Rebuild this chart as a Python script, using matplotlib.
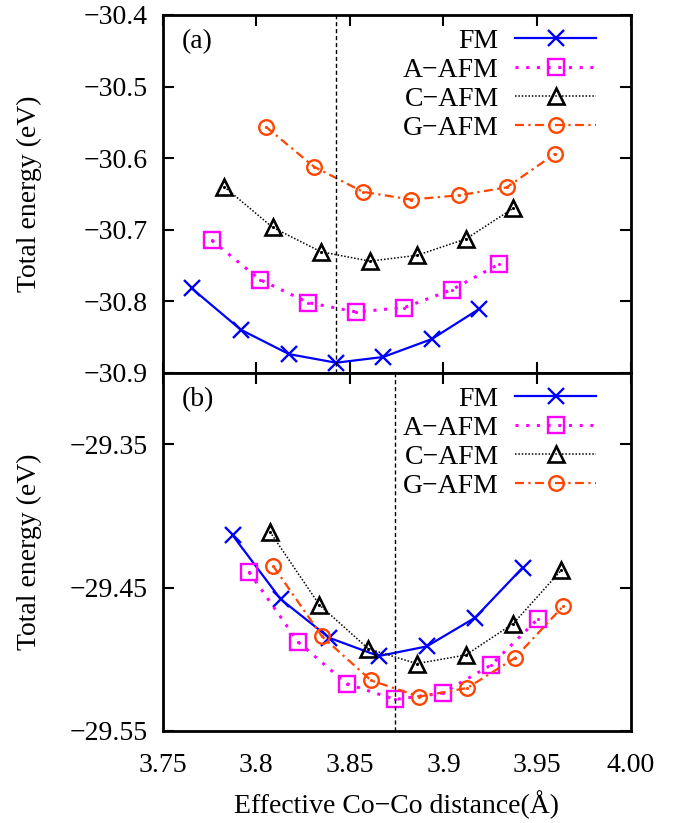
import matplotlib
matplotlib.use('Agg')
import matplotlib.pyplot as plt
from matplotlib.ticker import FixedLocator, FixedFormatter

plt.rcParams['font.family'] = ['Liberation Serif', 'DejaVu Serif']
plt.rcParams['font.size'] = 20

# (a) top panel data
xa_fm = [3.7655, 3.7918, 3.8175, 3.8426, 3.8678, 3.8937, 3.9190]
ya_fm = [-30.782, -30.840, -30.874, -30.886, -30.878, -30.853, -30.811]
xa_a = [3.7762, 3.8020, 3.8278, 3.8533, 3.8790, 3.9044, 3.9298]
ya_a = [-30.715, -30.770, -30.802, -30.815, -30.809, -30.784, -30.748]
xa_c = [3.7828, 3.8088, 3.8346, 3.8607, 3.8857, 3.9120, 3.9373]
ya_c = [-30.640, -30.697, -30.731, -30.744, -30.736, -30.713, -30.670]
xa_g = [3.8050, 3.8308, 3.8568, 3.8826, 3.9083, 3.9337, 3.9596]
ya_g = [-30.556, -30.612, -30.647, -30.658, -30.652, -30.641, -30.594]
xa_min = 3.8426

# (b) bottom panel data
xb_fm = [3.7874, 3.8130, 3.8390, 3.8654, 3.8910, 3.9168, 3.9423]
yb_fm = [-29.4135, -29.458, -29.485, -29.4977, -29.491, -29.471, -29.436]
xb_a = [3.7961, 3.8224, 3.8483, 3.8741, 3.8996, 3.9254, 3.9506]
yb_a = [-29.439, -29.488, -29.517, -29.528, -29.5235, -29.504, -29.4716]
xb_c = [3.8073, 3.8337, 3.8598, 3.8857, 3.9119, 3.9373, 3.9628]
yb_c = [-29.411, -29.462, -29.4926, -29.503, -29.497, -29.475, -29.438]
xb_g = [3.8091, 3.8351, 3.8613, 3.8871, 3.9127, 3.9382, 3.9640]
yb_g = [-29.435, -29.484, -29.5147, -29.526, -29.520, -29.499, -29.4628]
xb_min = 3.8741

labels = ['FM', 'A\u2212AFM', 'C\u2212AFM', 'G\u2212AFM']
xticks = [3.75, 3.80, 3.85, 3.90, 3.95, 4.00]
xticklabels = ['3.75', '3.8', '3.85', '3.9', '3.95', '4.00']
yticks_a = [-30.4, -30.5, -30.6, -30.7, -30.8, -30.9]
yticks_b = [-29.35, -29.45, -29.55]

styles = [
    dict(color='#0000ff', ls='-', lw=1.6, marker='x', ms=12, mew=1.7),
    dict(color='#ff00ff', ls=(0, (1, 2.5)), lw=2.2, marker='s', ms=11, mew=1.7, mfc='none'),
    dict(color='black', ls=(0, (1, 1.2)), lw=1.1, marker='^', ms=12, mew=1.9, mfc='none'),
    dict(color='#ff4500', ls=(0, (4, 2, 1, 2)), lw=1.6, marker='o', ms=10.5, mew=1.7, mfc='none'),
]

fig = plt.figure(figsize=(6.85, 8.23), dpi=100)
ax1 = fig.add_axes([0.2375, 0.5471, 0.6832, 0.4347])
ax2 = fig.add_axes([0.2375, 0.1118, 0.6832, 0.4353])


def draw(ax, data, xmin, tag):
    for (x, y), lab, st in zip(data, labels, styles):
        ax.plot(x, y, label=lab, **st)
        if st['marker'] != 'x':
            # small centre dot inside the open symbols
            ax.plot(x, y, ls='none', marker='.', ms=2.5, color=st['color'])
    ax.axvline(xmin, color='black', lw=1, ls=(0, (3, 2)))
    ax.set_xlim(3.75, 4.00)
    ax.xaxis.set_major_locator(FixedLocator(xticks))
    ax.tick_params(direction='in', length=8, width=1.5, pad=11, right=True, top=True)
    ax.tick_params(axis='x', pad=16)
    for s in ax.spines.values():
        s.set_linewidth(2)
    ax.text(0.04, 0.925, tag, transform=ax.transAxes, va='center', ha='left')
    ax.set_ylabel('Total energy (eV)')
    ax.yaxis.set_label_coords(-0.258, 0.5)
    ax.legend(loc='upper right', bbox_to_anchor=(0.926, 0.962), frameon=False,
              markerfirst=False, handlelength=2.9, handletextpad=0.6,
              labelspacing=0.13, borderpad=0, borderaxespad=0)


draw(ax1, [(xa_fm, ya_fm), (xa_a, ya_a), (xa_c, ya_c), (xa_g, ya_g)], xa_min, '(a)')
ax1.set_ylim(-30.9, -30.4)
ax1.yaxis.set_major_locator(FixedLocator(yticks_a))
ax1.yaxis.set_major_formatter(FixedFormatter(['\u221230.4', '\u221230.5', '\u221230.6',
                                              '\u221230.7', '\u221230.8', '\u221230.9']))
ax1.tick_params(axis='x', labelbottom=False, bottom=True)

draw(ax2, [(xb_fm, yb_fm), (xb_a, yb_a), (xb_c, yb_c), (xb_g, yb_g)], xb_min, '(b)')
ax2.set_ylim(-29.55, -29.30)
ax2.yaxis.set_major_locator(FixedLocator(yticks_b))
ax2.yaxis.set_major_formatter(FixedFormatter(['\u221229.35', '\u221229.45', '\u221229.55']))
ax2.xaxis.set_major_formatter(FixedFormatter(xticklabels))
ax2.tick_params(axis='x', bottom=False, top=True, labelbottom=True)
ax2.set_xlabel('Effective Co\u2212Co distance(\u00c5)', labelpad=9)

fig.savefig('out.png', dpi=100)
